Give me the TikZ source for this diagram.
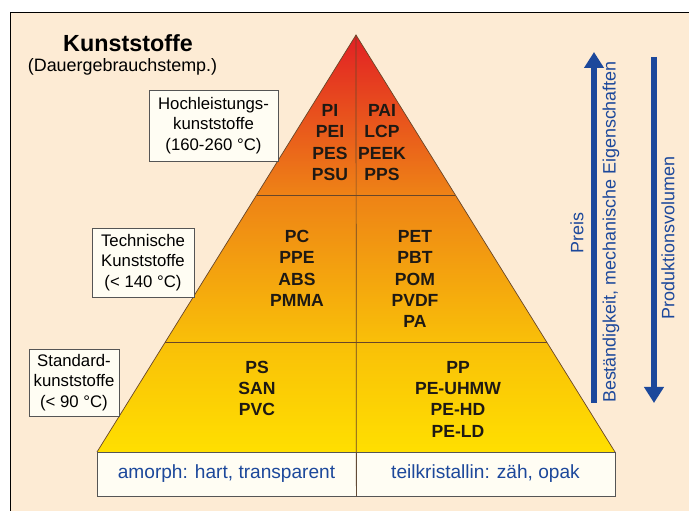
\documentclass[tikz,border=0pt]{standalone}
\usepackage{fontspec}
\setmainfont{Liberation Sans}
\definecolor{kuPeach}{RGB}{253,235,212}
\definecolor{kuCream}{RGB}{255,253,243}
\definecolor{kuFrame}{RGB}{85,85,85}
\definecolor{kuEdge}{RGB}{105,70,40}
\definecolor{kuInk}{RGB}{30,25,20}
\definecolor{kuBlue}{RGB}{28,72,155}
\definecolor{pyrYellow}{RGB}{255,223,0}
\definecolor{pyrGold}{RGB}{249,192,8}
\definecolor{pyrOrange}{RGB}{238,130,22}
\definecolor{pyrRed}{RGB}{226,32,36}
\usetikzlibrary{arrows.meta,calc}
\pgfdeclareverticalshading{pyramidshade}{100bp}{color(0bp)=(pyrYellow); color(25bp)=(pyrYellow);
  color(38bp)=(pyrGold); color(56bp)=(pyrOrange); color(75bp)=(pyrRed); color(100bp)=(pyrRed)}
\begin{document}
\begin{tikzpicture}[x=0.03cm, y=-0.03cm,
  classbox/.style={draw=kuFrame, fill=kuCream, line width=0.6pt, inner sep=0pt,
                   align=center, font=\fontsize{14.3}{17.5}\selectfont},
  polytext/.style={align=center, inner sep=0pt, text=kuInk,
                   font=\bfseries\fontsize{15}{18.2}\selectfont},
  basebox/.style={draw=kuFrame, fill=kuCream, line width=0.6pt, minimum width=7.77cm,
                  minimum height=1.32cm, inner sep=0pt, text=kuBlue,
                  font=\fontsize{16.3}{19}\selectfont},
  sidetext/.style={rotate=90, inner sep=0pt, text=kuBlue, font=\fontsize{15.3}{17.5}\selectfont},
  bluearrow/.style={draw=kuBlue, line width=0.17cm, -{Triangle[length=0.48cm,width=0.57cm]}}
]
  \useasboundingbox (0,0) rectangle (689,511);
  \fill[kuPeach] (10,13) rectangle (689,511);
  \draw[line width=0.85pt] (10,511) -- (10,13) -- (689,13);

  % pyramid
  \coordinate (apex)  at (356,35);
  \coordinate (baseL) at (97,452);
  \coordinate (baseR) at (615,452);
  \shade[shading=pyramidshade] (baseL) -- (apex) -- (baseR) -- cycle;
  \coordinate (tierAL) at ($(apex)!0.3837!(baseL)$);
  \coordinate (tierAR) at ($(apex)!0.3837!(baseR)$);
  \coordinate (tierBL) at ($(apex)!0.7362!(baseL)$);
  \coordinate (tierBR) at ($(apex)!0.7362!(baseR)$);
  \draw[kuEdge, line width=0.6pt] (tierAL) -- (tierAR);
  \draw[kuEdge, line width=0.6pt] (tierBL) -- (tierBR);
  \draw[kuEdge, line width=0.6pt] (baseL) -- (apex) -- (baseR);

  \node[basebox] (amorph)    at (226.5,474) {amorph: hart, transparent};
  \node[basebox] (teilkrist) at (485.5,474) {teilkristallin: zäh, opak};
  \draw[kuEdge, line width=0.6pt] (apex) -- (amorph.south east);

  % polymers
  \node[polytext] (hpLeft)  at (330,142.5) {PI\\PEI\\PES\\PSU};
  \node[polytext] (hpRight) at (382,142.5) {PAI\\LCP\\PEEK\\PPS};
  \node[polytext] (tkLeft)  at (297,268.5) {PC\\PPE\\ABS\\PMMA};
  \node[polytext] (tkRight) at (415,279)   {PET\\PBT\\POM\\PVDF\\PA};
  \node[polytext] (stLeft)  at (257,388.5) {PS\\SAN\\PVC};
  \node[polytext] (stRight) at (458,399)   {PP\\PE-UHMW\\PE-HD\\PE-LD};

  % classes
  \node[classbox, minimum width=3.87cm, minimum height=2.13cm] (hpClass) at (213.5,125.5)
       {Hochleistungs-\\kunststoffe\\(160-260 °C)};
  \node[classbox, minimum width=3.06cm, minimum height=2.07cm] (tkClass) at (143,262.5)
       {Technische\\Kunststoffe\\(< 140 °C)};
  \node[classbox, minimum width=2.7cm, minimum height=2.01cm] (stClass) at (74,382.5)
       {Standard-\\kunststoffe\\(< 90 °C)};

  % title
  \node[inner sep=0pt, font=\bfseries\fontsize{19.9}{22}\selectfont] (title) at (128,43) {Kunststoffe};
  \node[inner sep=0pt, font=\fontsize{15.3}{17.5}\selectfont] (subtitle) at (122.5,67) {(Dauergebrauchstemp.)};

  % trends
  \coordinate (priceLow)  at (594,403);
  \coordinate (priceHigh) at (594,52);
  \coordinate (volHigh)   at (654,57);
  \coordinate (volLow)    at (654,403);
  \draw[bluearrow] (priceLow) -- (priceHigh);
  \draw[bluearrow] (volHigh) -- (volLow);
  \node[sidetext] (price)  at (577,233) {Preis};
  \node[sidetext] (resist) at (611,232) {Beständigkeit, mechanische Eigenschaften};
  \node[sidetext] (volume) at (668,238) {Produktionsvolumen};
\end{tikzpicture}
\end{document}
